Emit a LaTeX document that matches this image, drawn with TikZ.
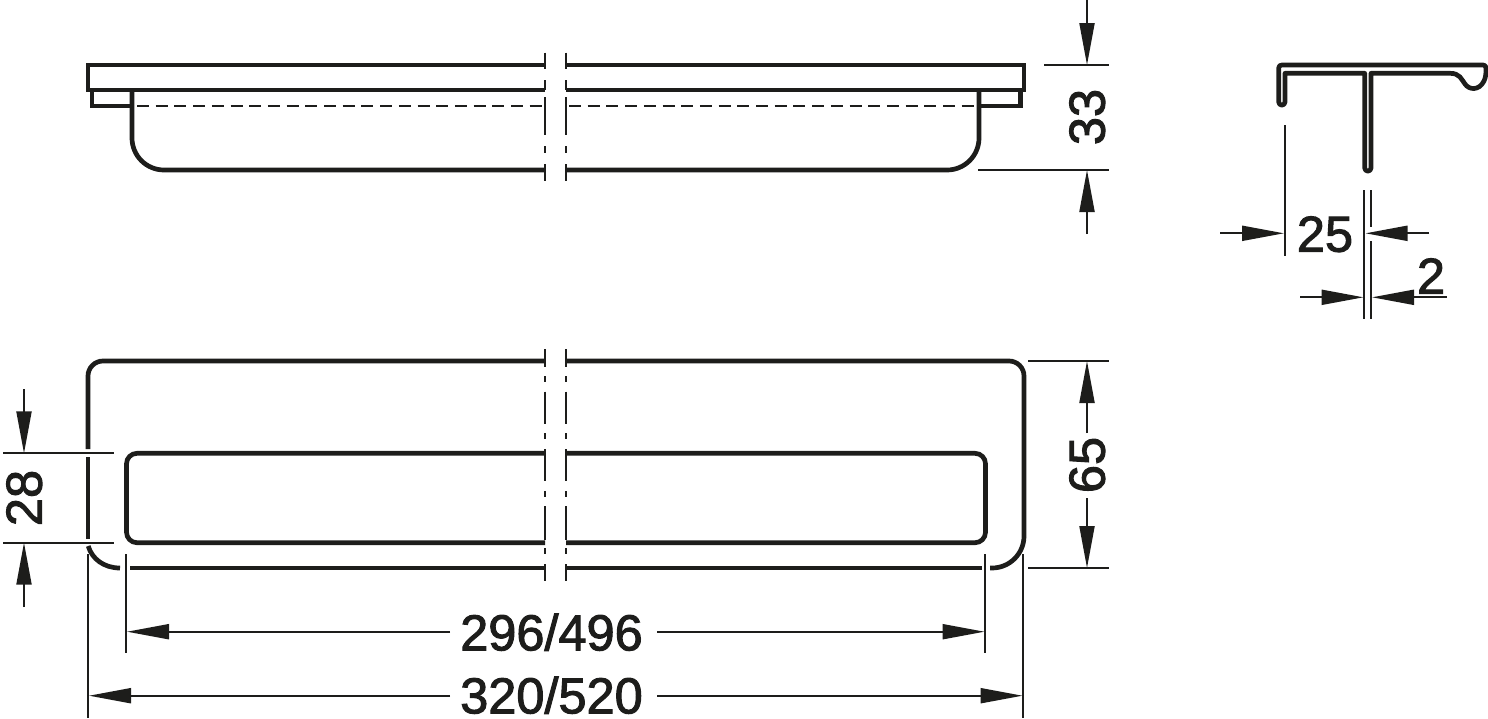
\documentclass[tikz,border=0pt]{standalone}
\usepackage{fontspec}
\setmainfont[FakeBold=2]{Liberation Sans}
\usetikzlibrary{arrows.meta}
\definecolor{ink}{HTML}{1D1D1B}
\tikzset{
  thickline/.style={draw=ink,line width=4.7pt,line join=miter},
  thinline/.style={draw=ink,line width=2pt},
  dimline/.style={draw=ink,line width=2pt,-{Triangle[length=42pt,width=15pt,color=ink]}},
  dimlabel/.style={text=ink,inner sep=0pt,text depth=0pt,font=\fontsize{50.5}{50.5}\selectfont},
}
\begin{document}
\begin{tikzpicture}[x=1pt,y=-1pt]
\useasboundingbox (0,0) rectangle (1488,718);
% --- side view
\draw[thickline] (545,65) -- (88,65) -- (88,90) -- (545,90);
\draw[thickline] (566,65) -- (1024,65) -- (1024,90) -- (566,90);
\draw[thickline] (92,90) -- (92,106) -- (132,106);
\draw[thickline] (1020.5,90) -- (1020.5,106) -- (979,106);
\draw[thickline] (132,90) -- (132,138) arc[start angle=180,end angle=90,radius=32] -- (545,170);
\draw[thickline] (979,90) -- (979,138) arc[start angle=0,end angle=90,radius=32] -- (566,170);
\draw[draw=ink,line width=2pt,dash pattern=on 12pt off 6.7pt,dash phase=-3pt] (134,106) -- (545,106);
\draw[draw=ink,line width=2pt,dash pattern=on 12pt off 6.7pt,dash phase=-3pt] (566,106) -- (977,106);
\foreach \x in {545,566}{
  \draw[thinline] (\x,52.7) -- (\x,69) (\x,80) -- (\x,90) (\x,97) -- (\x,135)
    (\x,146) -- (\x,153) (\x,164) -- (\x,181);
}
% --- plan view
\draw[thickline] (88,449) -- (88,376) arc[start angle=180,end angle=270,radius=15] -- (545,361);
\draw[thickline] (566,361) -- (1009,361) arc[start angle=270,end angle=360,radius=15] -- (1024,536)
  arc[start angle=0,end angle=90,radius=32] -- (990,568);
\draw[thickline] (88,457) -- (88,539);
\draw[thickline] (88.2,546) .. controls (92,559) and (104,568) .. (120,568);
\draw[thickline] (130,568) -- (545,568);
\draw[thickline] (566,568) -- (982,568);
\draw[thickline] (545,453.3) -- (137,453.3) arc[start angle=270,end angle=180,radius=10.5] -- (126.5,532.2)
  arc[start angle=180,end angle=90,radius=10.5] -- (545,542.7);
\draw[thickline] (566,453.3) -- (975,453.3) arc[start angle=270,end angle=360,radius=10.5] -- (985.5,532.2)
  arc[start angle=0,end angle=90,radius=10.5] -- (566,542.7);
\foreach \x in {545.3,566.3}{
  \draw[thinline] (\x,349.3) -- (\x,367) (\x,376) -- (\x,382) (\x,391.7) -- (\x,424)
    (\x,433) -- (\x,439) (\x,449) -- (\x,481) (\x,491) -- (\x,497) (\x,506) -- (\x,540)
    (\x,548) -- (\x,554) (\x,564) -- (\x,580.7);
}
% --- extension lines
\draw[thinline] (1044,65) -- (1109,65);
\draw[thinline] (978,170) -- (1109,170);
\draw[thinline] (1028,361) -- (1109,361);
\draw[thinline] (1028,568) -- (1109,568);
\draw[thinline] (3,453.3) -- (114,453.3);
\draw[thinline] (3,542.7) -- (114,542.7);
\draw[thinline] (88.3,554) -- (88.3,718);
\draw[thinline] (1023.3,554) -- (1023.3,718);
\draw[thinline] (126,554) -- (126,653);
\draw[thinline] (985,554) -- (985,653);
% --- dimension 33
\coordinate (a33t) at (1087,0); \coordinate (e33t) at (1087,65);
\coordinate (a33b) at (1087,234); \coordinate (e33b) at (1087,170);
\draw[dimline] (a33t) -- (e33t);
\draw[dimline] (a33b) -- (e33b);
\node[dimlabel,rotate=90] (l33) at (1087,117) {33};
% --- dimension 65
\node[dimlabel,rotate=90] (l65) at (1087,465) {65};
\coordinate (e65t) at (1087,361); \coordinate (e65b) at (1087,568);
\coordinate (s65t) at (1087,433); \coordinate (s65b) at (1087,498);
\draw[dimline] (s65t) -- (e65t);
\draw[dimline] (s65b) -- (e65b);
% --- dimension 28
\node[dimlabel,rotate=90] (l28) at (24,498) {28};
\coordinate (a28t) at (24,389); \coordinate (e28t) at (24,453.3);
\coordinate (a28b) at (24,607); \coordinate (e28b) at (24,542.7);
\draw[dimline] (a28t) -- (e28t);
\draw[dimline] (a28b) -- (e28b);
% --- dimension 296/496
\node[dimlabel] (l296) at (551.5,632) {296/496};
\coordinate (s296l) at (450,631.7); \coordinate (e296l) at (127,631.7);
\coordinate (s296r) at (657,631.7); \coordinate (e296r) at (984.5,631.7);
\draw[dimline] (s296l) -- (e296l);
\draw[dimline] (s296r) -- (e296r);
% --- dimension 320/520
\node[dimlabel] (l320) at (551.5,695) {320/520};
\coordinate (s320l) at (450,695.7); \coordinate (e320l) at (89,695.7);
\coordinate (s320r) at (657,695.7); \coordinate (e320r) at (1022.5,695.7);
\draw[dimline] (s320l) -- (e320l);
\draw[dimline] (s320r) -- (e320r);
% --- profile
\draw[thickline,line join=round] (1285,73.3) -- (1364.7,73.3) -- (1364.7,168)
  arc[start angle=180,end angle=0,radius=3.15] -- (1371,73.3) -- (1450,73.3)
  .. controls (1460,73.3) and (1461,79) .. (1465,84)
  .. controls (1469,90) and (1479,91) .. (1484,81)
  .. controls (1486,77) and (1486,72) .. (1486,68.3)
  .. controls (1486,66) and (1485,65) .. (1483,65) -- (1282,65)
  .. controls (1280,65) and (1278.7,66) .. (1278.7,68) -- (1278.7,102)
  arc[start angle=180,end angle=0,radius=3.15] -- cycle;
\draw[thinline] (1284.7,125) -- (1284.7,255.7);
\draw[thinline] (1364.3,190) -- (1364.3,319);
\draw[thinline] (1371,190) -- (1371,227) (1371,241) -- (1371,319);
% --- dimension 25
\node[dimlabel] (l25) at (1325,234) {25};
\coordinate (a25l) at (1220,233.3); \coordinate (e25l) at (1284,233.3);
\coordinate (a25r) at (1429,233.3); \coordinate (e25r) at (1365.5,233.3);
\draw[dimline] (a25l) -- (e25l);
\draw[dimline] (a25r) -- (e25r);
% --- dimension 2
\node[dimlabel] (l2) at (1431,276) {2};
\coordinate (a2l) at (1300,297.3); \coordinate (e2l) at (1363.5,297.3);
\coordinate (a2r) at (1446.7,297.3); \coordinate (e2r) at (1372,297.3);
\draw[dimline] (a2l) -- (e2l);
\draw[dimline] (a2r) -- (e2r);
\end{tikzpicture}
\end{document}
